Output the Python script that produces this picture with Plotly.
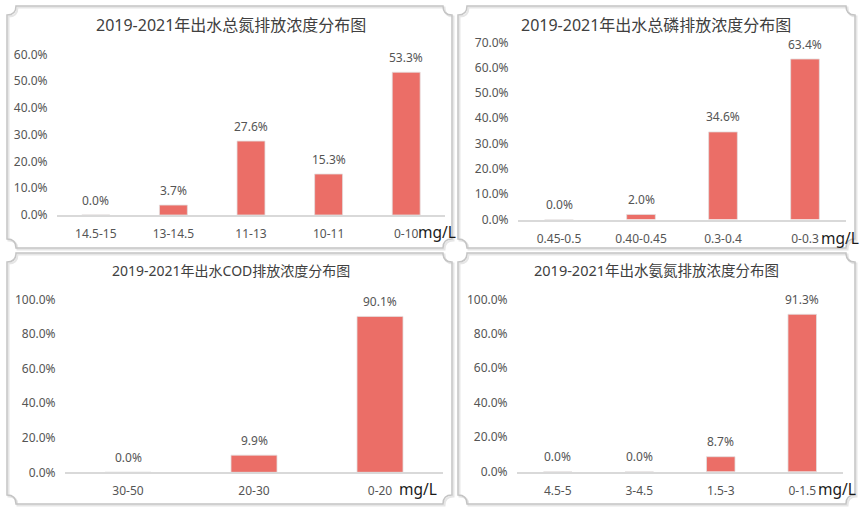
import plotly.graph_objects as go

W, H = 865, 511

# ---------------- data ----------------
tn_categories = ["14.5-15", "13-14.5", "11-13", "10-11", "0-10"]
tn_values = [0.0, 3.7, 27.6, 15.3, 53.3]

tp_categories = ["0.45-0.5", "0.40-0.45", "0.3-0.4", "0-0.3"]
tp_values = [0.0, 2.0, 34.6, 63.4]

cod_categories = ["30-50", "20-30", "0-20"]
cod_values = [0.0, 9.9, 90.1]

nh_categories = ["4.5-5", "3-4.5", "1.5-3", "0-1.5"]
nh_values = [0.0, 0.0, 8.7, 91.3]

titles = [
    "2019-2021年出水总氮排放浓度分布图",
    "2019-2021年出水总磷排放浓度分布图",
    "2019-2021年出水COD排放浓度分布图",
    "2019-2021年出水氨氮排放浓度分布图",
]
unit_label = "mg/L"

# ---------------- styling ----------------
BAR = "#EB6E67"
TXT = "#555555"
FONT = "Noto Sans, Noto Sans CJK SC, sans-serif"


def px(x):
    return x / W


def py(y):
    return 1 - y / H


panels = [
    dict(c=tn_categories, v=tn_values, x0=57, x1=445, yb=215, yt=54.3, ymax=60, dt=10, bw=0.36,
         title_xy=(231, 25), title_size=16, unit_xy=(416, 232)),
    dict(c=tp_categories, v=tp_values, x0=518, x1=846, yb=219.5, yt=42.3, ymax=70, dt=10, bw=0.35,
         title_xy=(656, 25), title_size=16, unit_xy=(819, 238)),
    dict(c=cod_categories, v=cod_values, x0=65, x1=443, yb=472.3, yt=299.3, ymax=100, dt=20, bw=0.365,
         title_xy=(231, 270), title_size=14, unit_xy=(397, 489)),
    dict(c=nh_categories, v=nh_values, x0=517, x1=843, yb=471.7, yt=299.3, ymax=100, dt=20, bw=0.35,
         title_xy=(656, 270), title_size=14.5, unit_xy=(816, 489)),
]

fig = go.Figure()
annotations = []
layout_axes = {}

for i, p in enumerate(panels, start=1):
    xa = "x" if i == 1 else f"x{i}"
    ya = "y" if i == 1 else f"y{i}"
    fig.add_trace(go.Bar(
        x=p["c"], y=p["v"], width=p["bw"],
        marker=dict(color=BAR, line=dict(color="rgba(228,222,222,0.8)", width=1)),
        xaxis=xa, yaxis=ya, showlegend=False, hoverinfo="skip",
    ))
    for c, v in zip(p["c"], p["v"]):
        annotations.append(dict(
            x=c, y=v, xref=xa, yref=ya, text=f"{v:.1f}%", showarrow=False,
            yanchor="middle", yshift=15, font=dict(family=FONT, size=12, color=TXT),
        ))
    xkey = "xaxis" if i == 1 else f"xaxis{i}"
    ykey = "yaxis" if i == 1 else f"yaxis{i}"
    layout_axes[xkey] = dict(
        domain=[px(p["x0"]), px(p["x1"])], anchor=ya, type="category",
        range=[-0.5, len(p["c"]) - 0.5], automargin=False,
        showline=True, linecolor="#d9d9d9", linewidth=1.5,
        showgrid=False, zeroline=False,
        ticks="outside", ticklen=7, tickcolor="rgba(0,0,0,0)",
        tickfont=dict(family=FONT, size=12, color=TXT), fixedrange=True,
    )
    layout_axes[ykey] = dict(
        domain=[py(p["yb"]), py(p["yt"])], anchor=xa,
        range=[0, p["ymax"]], dtick=p["dt"], tick0=0, automargin=False,
        tickformat=".1f", ticksuffix="%",
        showline=False, showgrid=False, zeroline=False,
        ticks="outside", ticklen=6, tickcolor="rgba(0,0,0,0)",
        tickfont=dict(family=FONT, size=12, color=TXT), fixedrange=True,
    )
    tx, ty = p["title_xy"]
    annotations.append(dict(
        x=px(tx), y=py(ty), xref="paper", yref="paper", text=titles[i - 1],
        showarrow=False, xanchor="center", yanchor="middle",
        font=dict(family=FONT, size=p["title_size"], color="#404040"),
    ))
    ux, uy = p["unit_xy"]
    annotations.append(dict(
        x=px(ux), y=py(uy), xref="paper", yref="paper", text=unit_label,
        showarrow=False, xanchor="left", yanchor="middle",
        font=dict(family=FONT, size=15.5, color="#1a1a1a"),
    ))


def outline(x0, y0, x1, y1, r):
    def P(x, y):
        return f"{px(x):.5f},{py(y):.5f}"
    return (
        f"M {P(x0 + r, y0)} L {P(x1 - r, y0)} Q {P(x1 - r, y0 + r)} {P(x1, y0 + r)} "
        f"L {P(x1, y1 - r)} Q {P(x1 - r, y1 - r)} {P(x1 - r, y1)} "
        f"L {P(x0 + r, y1)} Q {P(x0 + r, y1 - r)} {P(x0, y1 - r)} "
        f"L {P(x0, y0 + r)} Q {P(x0 + r, y0 + r)} {P(x0 + r, y0)} Z"
    )


boxes = [(7, 6, 452, 248), (458, 6, 855, 248), (7, 253, 452, 504), (458, 253, 855, 504)]
shapes = []
for (x0, y0, x1, y1) in boxes:
    shapes.append(dict(type="path", xref="paper", yref="paper",
                       path=outline(x0 + 1.5, y0 + 1.5, x1 + 1.5, y1 + 1.5, 9),
                       line=dict(color="#e6e6e6", width=2), layer="below"))
    shapes.append(dict(type="path", xref="paper", yref="paper",
                       path=outline(x0, y0, x1, y1, 9),
                       line=dict(color="#c4c4c4", width=1.5), layer="below"))

fig.update_layout(
    width=W, height=H, autosize=False,
    margin=dict(l=0, r=0, t=0, b=0, pad=0, autoexpand=False),
    paper_bgcolor="white", plot_bgcolor="white",
    annotations=annotations, shapes=shapes,
    font=dict(family=FONT, color=TXT),
    bargap=0.6,
    **layout_axes,
)

fig.write_html(
    "out.html",
    config={"displayModeBar": False},
    post_script="document.body.style.margin='0';document.body.style.overflow='hidden';",
)
